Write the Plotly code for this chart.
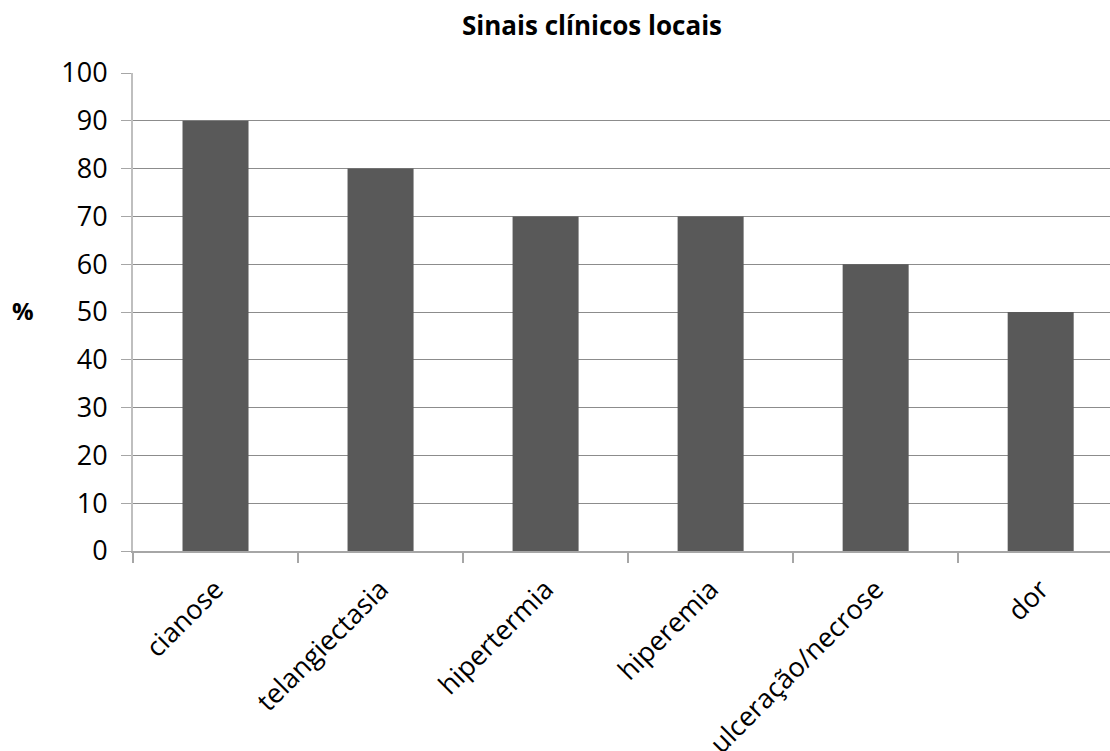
import plotly.graph_objects as go

categories = ["cianose", "telangiectasia", "hipertermia", "hiperemia", "ulceração/necrose", "dor"]
values = [90, 80, 70, 70, 60, 50]
y_ticks = list(range(0, 101, 10))

FONT = "Open Sans"

fig = go.Figure(go.Bar(
    x=categories, y=values,
    marker=dict(color="#595959", line=dict(width=0)),
    width=0.4,
))

fig.update_layout(
    width=1110, height=751,
    margin=dict(l=133, r=0, t=73, b=200, autoexpand=False),
    paper_bgcolor="white", plot_bgcolor="white",
    showlegend=False,
    font=dict(family=FONT, color="black", size=27),
    title=dict(text="<b>Sinais clínicos locais</b>", x=592/1110, xanchor="center",
               y=1-26/751, yanchor="middle", xref="container", yref="container",
               font=dict(family=FONT, size=26, color="black")),
    bargap=0.6,
)

fig.update_xaxes(
    type="category", range=[-0.5, 5.42], automargin=False,
    tickangle=-45, tickson="boundaries", ticks="outside", ticklen=10,
    tickcolor="#a6a6a6", tickwidth=1.5,
    showline=True, linecolor="#a6a6a6", linewidth=1.5,
    showgrid=False, ticklabelstandoff=10,
    tickfont=dict(family=FONT, size=27, color="black"),
)
fig.update_yaxes(
    range=[0, 100], tickvals=y_ticks, automargin=False,
    ticks="outside", ticklen=10, tickcolor="#a6a6a6", tickwidth=1,
    showline=True, linecolor="#bfbfbf", linewidth=2,
    showgrid=True, gridcolor="#8c8c8c", gridwidth=1.2,
    zeroline=False, ticklabelstandoff=8,
    tickfont=dict(family=FONT, size=27, color="black"),
)

fig.add_annotation(text="<b>%</b>", xref="paper", yref="paper",
                   x=(23-133)/977, y=(551-310)/478,
                   showarrow=False, font=dict(family=FONT, size=24, color="black"),
                   xanchor="center", yanchor="middle")

fig.write_html("out.html")
